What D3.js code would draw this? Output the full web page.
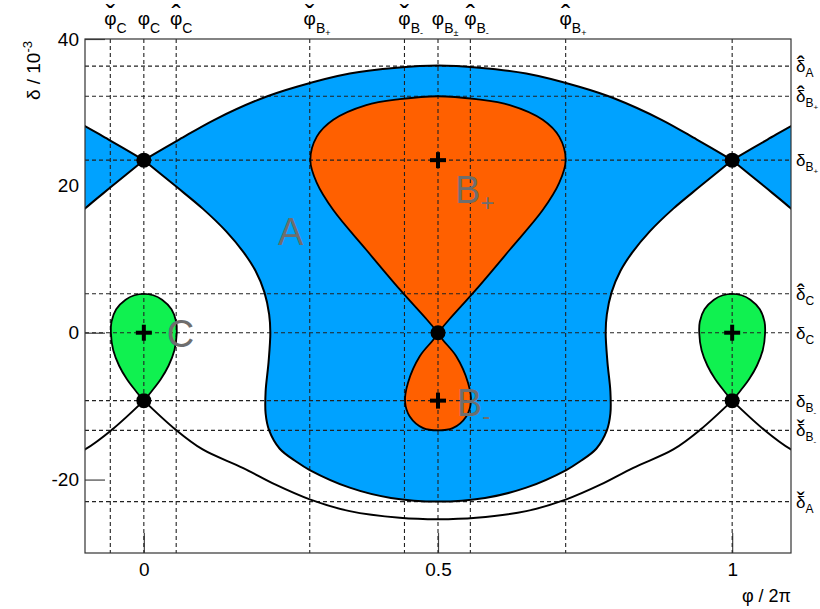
<!DOCTYPE html>
<html><head><meta charset="utf-8">
<script src="https://cdn.jsdelivr.net/npm/d3@7"></script>
<style>
body{margin:0;background:#fff;}
svg{font-family:"Liberation Sans",Arial,Helvetica,sans-serif;}
</style></head><body>
<svg id="chart" width="820" height="609"></svg>
<script>
// ---------------- data ----------------
const xTicks = [0, 0.5, 1];
const xTickLabels = ["0", "0.5", "1"];
const yTicks = [-20, 0, 20, 40];
const yTickLabels = ["-20", "0", "20", "40"];

// upper separatrix (top of region A), left half x:0..0.5
const upperArcHalf = [[0,23.5],[0.06,26.3],[0.12,29.0],[0.2,31.9],[0.26,33.5],[0.35,35.3],[0.43,36.1],[0.5,36.4]];
// inner separatrix (bottom of region A), left half x:0..0.5
const innerSepHalf = [[0,23.5],[0.055,19.9],[0.1,16.9],[0.14,13.8],[0.17,10.9],[0.19,8.4],[0.205,5.5],[0.213,2.5],[0.215,0],[0.212,-4],[0.207,-8],[0.207,-11],[0.213,-13.3],[0.231,-15.8],[0.26,-17.6],[0.282,-18.7],[0.35,-21.1],[0.42,-22.5],[0.5,-23.0]];
// lower separatrix, left half x:0..0.5
const lowerSepHalf = [[0,-9.25],[0.054,-13.2],[0.1,-15.9],[0.168,-18.4],[0.224,-20.7],[0.282,-22.7],[0.35,-24.3],[0.435,-25.2],[0.5,-25.4]];
// island C, right half relative to its centre phi (top -> bottom)
const islandCHalf = [[0,5.3],[0.016,5.1],[0.031,4.5],[0.047,3.2],[0.055,1.5],[0.056,0],[0.052,-2.4],[0.042,-4.5],[0.029,-6.3],[0.014,-7.9],[0,-9.25]];
// island B+, left half (top -> bottom)
const islandBplusHalf = [[0.5,32.2],[0.435,31.8],[0.378,31.0],[0.322,29.0],[0.294,26.7],[0.283,23.5],[0.294,20.4],[0.322,16.7],[0.378,11.3],[0.435,5.9],[0.481,1.8],[0.5,0]];
// island B-, left half (top -> bottom)
const islandBminusHalf = [[0.5,0],[0.492,-0.95],[0.469,-3.2],[0.449,-6.8],[0.444,-9.4],[0.452,-11.4],[0.475,-13.0],[0.5,-13.3]];

const saddlePoints = [[0,23.5],[1,23.5],[0.5,0],[0,-9.25],[1,-9.25]];
const centrePoints = [[0.5,23.5],[0,0],[1,0],[0.5,-9.25]];
const islandCCentres = [0, 1];
const periodShifts = [-1, 0, 1];

const phiMarks   = [-0.057, 0, 0.055, 0.282, 0.443, 0.5, 0.555, 0.717, 1];
const phiAccents = ["check", "", "hat", "check", "check", "", "hat", "hat", null];
const phiSubs    = ["C", "C", "C", "B", "B", "B", "B", "B", null];
const phiSubSubs = ["", "", "", "+", "-", "±", "-", "+", null];

const deltaMarks   = [36.3, 32.2, 23.5, 5.3, 0, -9.25, -13.3, -23.0];
const deltaAccents = ["hat", "hat", "", "hat", "", "", "check", "check"];
const deltaSubs    = ["A", "B", "B", "C", "C", "B", "B", "A"];
const deltaSubSubs = ["", "+", "+", "", "", "-", "-", ""];

const regionNames  = ["A", "B", "B", "C"];
const regionSubs   = ["", "+", "-", ""];
const regionPhi    = [0.228, 0.529, 0.532, 0.039];
const regionDelta  = [12.0, 17.7, -11.4, -2.0];

// ---------------- drawing ----------------
const svg = d3.select("#chart");
const x = d3.scaleLinear().domain([-0.1, 1.1]).range([85, 791]);
const y = d3.scaleLinear().domain([-30, 40]).range([553, 39]);
const X0 = x.range()[0], X1 = x.range()[1], Y0 = y.range()[1], Y1 = y.range()[0];

const COL_A = "#00a2ff", COL_B = "#ff6000", COL_C = "#10f150", TXT_GREY = "#6e6e6e";
const FONT = "Liberation Sans, Arial, sans-serif";

svg.append("rect").attr("width", 820).attr("height", 609).attr("fill", "#fff");
svg.append("clipPath").attr("id", "plotclip").append("rect")
  .attr("x", X0).attr("y", Y0).attr("width", X1 - X0).attr("height", Y1 - Y0);

// axes first (ticks lie under the fills)
const xAxis = d3.axisBottom(x).tickValues(xTicks).tickFormat((d, i) => xTickLabels[i])
  .tickSizeInner(-20).tickSizeOuter(0).tickPadding(10);
const gx = svg.append("g").attr("transform", `translate(0,${Y1})`).call(xAxis);
gx.select(".domain").remove();
gx.selectAll(".tick line").attr("stroke", "#444").attr("stroke-width", 1.2);
gx.selectAll(".tick text").style("font-size", "19px").style("font-family", FONT).attr("fill", "#000");

const yAxis = d3.axisLeft(y).tickValues(yTicks).tickFormat((d, i) => yTickLabels[i])
  .tickSizeInner(-20).tickSizeOuter(0).tickPadding(6);
const gy = svg.append("g").attr("transform", `translate(${X0},0)`).call(yAxis);
gy.select(".domain").remove();
gy.selectAll(".tick line").attr("stroke", "#444").attr("stroke-width", 1.2);
gy.selectAll(".tick text").style("font-size", "19px").style("font-family", FONT).attr("fill", "#000");

const mirrorX = (pts, c) => pts.map(([a, b]) => [2 * c - a, b]);
const shiftX = (pts, s) => pts.map(([a, b]) => [a + s, b]);
const fullPeriod = half => half.concat(mirrorX(half.slice(0, -1).reverse(), 0.5));

const upperFull = fullPeriod(upperArcHalf);
const innerFull = fullPeriod(innerSepHalf);
const lowerFull = fullPeriod(lowerSepHalf);

const line = d3.line().x(d => x(d[0])).y(d => y(d[1])).curve(d3.curveCatmullRom.alpha(0.5));

const plot = svg.append("g").attr("clip-path", "url(#plotclip)");

// region A (periodic copies)
const regionAPath = s => {
  const up = shiftX(upperFull, s);
  const lo = shiftX(innerFull.slice().reverse(), s);
  return line(up) + line(lo).replace(/^M/, "L") + "Z";
};
plot.selectAll("path.regA").data(periodShifts).join("path").attr("class", "regA")
  .attr("d", regionAPath).attr("fill", COL_A).attr("stroke", "none");

const bPlusLoop = mirrorX(islandBplusHalf.slice().reverse(), 0.5).concat(islandBplusHalf.slice(1));
const bMinusLoop = islandBminusHalf.concat(mirrorX(islandBminusHalf.slice(0, -1).reverse(), 0.5));
const cLoopRel = mirrorX(islandCHalf.slice().reverse(), 0).concat(islandCHalf.slice(1));

const islands = [
  {pts: bPlusLoop, col: COL_B},
  {pts: bMinusLoop, col: COL_B},
  ...islandCCentres.map(c => ({pts: shiftX(cLoopRel, c), col: COL_C}))
];
plot.selectAll("path.isl").data(islands).join("path").attr("class", "isl")
  .attr("d", d => line(d.pts) + "Z").attr("fill", d => d.col).attr("stroke", "none");

// dashed guide lines
const dash = "4,3";
plot.selectAll("line.vg").data(phiMarks).join("line").attr("class", "vg")
  .attr("x1", d => x(d)).attr("x2", d => x(d)).attr("y1", Y0).attr("y2", Y1)
  .attr("stroke", "#222").attr("stroke-width", 1.1).attr("stroke-dasharray", dash);
plot.selectAll("line.hg").data(deltaMarks).join("line").attr("class", "hg")
  .attr("y1", d => y(d)).attr("y2", d => y(d)).attr("x1", X0).attr("x2", X1)
  .attr("stroke", "#222").attr("stroke-width", 1.1).attr("stroke-dasharray", dash);

// outlines
const curves = [];
periodShifts.forEach(s => {
  curves.push(shiftX(upperFull, s), shiftX(innerFull, s), shiftX(lowerFull, s));
});
plot.selectAll("path.sep").data(curves).join("path").attr("class", "sep")
  .attr("d", d => line(d)).attr("fill", "none").attr("stroke", "#000").attr("stroke-width", 2);
plot.selectAll("path.islo").data(islands).join("path").attr("class", "islo")
  .attr("d", d => line(d.pts) + "Z").attr("fill", "none").attr("stroke", "#000").attr("stroke-width", 1.8);

// fixed points
plot.selectAll("circle.sad").data(saddlePoints).join("circle").attr("class", "sad")
  .attr("cx", d => x(d[0])).attr("cy", d => y(d[1])).attr("r", 7.5).attr("fill", "#000");
const cross = plot.selectAll("g.cen").data(centrePoints).join("g").attr("class", "cen")
  .attr("transform", d => `translate(${x(d[0])},${y(d[1])})`);
cross.append("line").attr("x1", -8).attr("x2", 8).attr("stroke", "#000").attr("stroke-width", 4);
cross.append("line").attr("y1", -8).attr("y2", 8).attr("stroke", "#000").attr("stroke-width", 4);

// region labels
const rl = svg.selectAll("text.reg").data(regionNames).join("text").attr("class", "reg")
  .attr("x", (d, i) => x(regionPhi[i])).attr("y", (d, i) => y(regionDelta[i]))
  .attr("font-size", 38).attr("fill", TXT_GREY);
rl.append("tspan").text(d => d);
rl.append("tspan").attr("font-size", 24).attr("dy", 8).text((d, i) => regionSubs[i]);

// frame
svg.append("rect").attr("x", X0).attr("y", Y0).attr("width", X1 - X0).attr("height", Y1 - Y0)
  .attr("fill", "none").attr("stroke", "#333").attr("stroke-width", 1.2);

// axis titles
const yt = svg.append("text").attr("transform", `translate(40,${Y0 + 2}) rotate(-90)`)
  .attr("text-anchor", "end").attr("font-size", 19).attr("fill", "#000");
yt.append("tspan").text("δ / 10");
yt.append("tspan").attr("font-size", 13).attr("dy", -8).text("-3");
svg.append("text").attr("x", X1).attr("y", 602).attr("text-anchor", "end")
  .attr("font-size", 18).attr("fill", "#000").text("φ / 2π");

const accentChar = a => a === "hat" ? "\u02C6" : (a === "check" ? "\u02C7" : "");
const measure = (str, size) => {
  const t = svg.append("text").attr("font-size", size).text(str);
  const w = t.node().getComputedTextLength();
  t.remove();
  return w;
};

// one text element per label: base glyph, accent (moved back over it), subscripts
function symbolLabel(xStart, base, glyph, gSize, accent, aSize, aDy, sub, subSub, sSize, ssSize, sDy) {
  const w = measure(glyph, gSize);
  const t = svg.append("text").attr("x", xStart).attr("y", base).attr("fill", "#000");
  t.append("tspan").attr("font-size", gSize).text(glyph);
  let dx = 0, dy = sDy;
  if (accent) {
    const aw = measure(accentChar(accent), aSize);
    t.append("tspan").attr("font-size", aSize).attr("dx", -(w / 2 + aw / 2)).attr("dy", aDy)
      .text(accentChar(accent));
    dx = w / 2 - aw / 2;
    dy = sDy - aDy;
  }
  t.append("tspan").attr("font-size", sSize).attr("dx", dx).attr("dy", dy).text(sub);
  if (subSub) t.append("tspan").attr("font-size", ssSize).attr("dy", 3).text(subSub);
}

// top phi labels (phi glyph centred on its line)
const phiW = measure("φ", 19);
phiMarks.forEach((v, i) => {
  if (phiSubs[i] === null) return;
  symbolLabel(x(v) - phiW / 2, 25, "φ", 19, phiAccents[i], 28, -1, phiSubs[i], phiSubSubs[i], 14, 9, 8);
});

// right delta labels
deltaMarks.forEach((v, i) => {
  symbolLabel(X1 + 5, y(v) + 6, "δ", 17, deltaAccents[i], 24, 1, deltaSubs[i], deltaSubSubs[i], 12, 8, 5);
});
</script>
</body></html>
